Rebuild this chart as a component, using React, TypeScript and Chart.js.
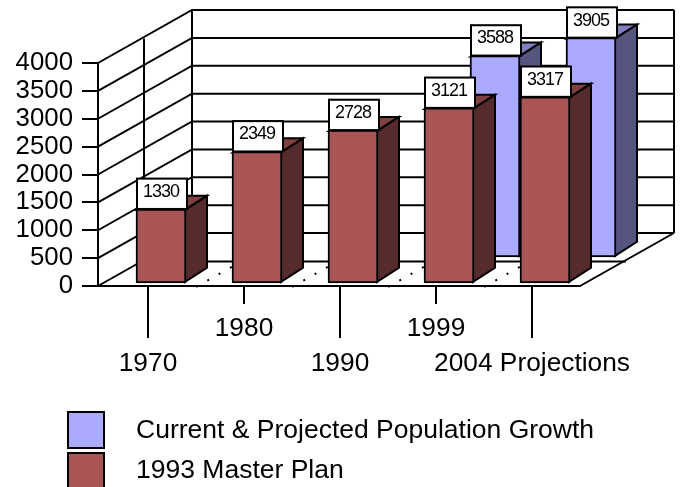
import React, { useEffect, useRef } from "react";
import { Chart, registerables } from "chart.js";

Chart.register(...registerables);

const categories = ["1970", "1980", "1990", "1999", "2004 Projections"];
const masterPlan = [1330, 2349, 2728, 3121, 3317];
const projected = [null, null, null, 3588, 3905];
const seriesNames = ["Current & Projected Population Growth", "1993 Master Plan"];
const yTicks = { min: 0, max: 4000, step: 500 };

const FONT = '"Liberation Sans", Arial, sans-serif';
const INK = "#000000";
const RED = { face: "#AA5555", side: "#552B2B", top: "#804040" };
const BLUE = { face: "#AAAAFF", side: "#555580", top: "#8080C0" };

const shifts = [{ dx: 59, dy: -28 }, { dx: 13, dy: -2 }];
const looks = [BLUE, RED];
const DEPTH = { x: 22, y: -14 };
const WALL = { x: 94, y: -53 };
const BAR_STRETCH = 1.012;

const line = (ctx: CanvasRenderingContext2D, pts: number[][]) => {
  ctx.beginPath();
  pts.forEach(([x, y], i) => (i ? ctx.lineTo(x, y) : ctx.moveTo(x, y)));
  ctx.stroke();
};

const poly = (ctx: CanvasRenderingContext2D, pts: number[][], fill: string) => {
  ctx.beginPath();
  pts.forEach(([x, y], i) => (i ? ctx.lineTo(x, y) : ctx.moveTo(x, y)));
  ctx.closePath();
  ctx.fillStyle = fill;
  ctx.fill();
  ctx.stroke();
};

const scene3d = {
  id: "scene3d",
  afterLayout(chart: any) {
    // the category band starts just right of the value axis
    const x = chart.scales.x;
    x.left = x.left + 2;
    x.configure();
  },
  beforeDatasetsDraw(chart: any) {
    const { ctx, scales } = chart;
    const y = scales.y;
    const left = y.right;
    const right = scales.x.right;
    const y0 = y.getPixelForValue(0);
    const yMax = y.getPixelForValue(yTicks.max);
    ctx.save();
    ctx.strokeStyle = INK;
    ctx.lineWidth = 2;
    for (let v = yTicks.min; v <= yTicks.max; v += yTicks.step) {
      const py = y.getPixelForValue(v);
      line(ctx, [
        [left, py],
        [left + WALL.x, py + WALL.y],
        [right + WALL.x, py + WALL.y],
      ]);
    }
    line(ctx, [[left + WALL.x, yMax + WALL.y], [left + WALL.x, y0 + WALL.y]]);
    line(ctx, [[right + WALL.x, yMax + WALL.y], [right + WALL.x, y0 + WALL.y]]);
    line(ctx, [[right, y0], [right + WALL.x, y0 + WALL.y]]);
    // mid divider of the two rows
    const midX = left + WALL.x / 2 - 1;
    const midY = WALL.y / 2 + 2;
    line(ctx, [[midX, yMax + midY], [midX, y0 + midY]]);
    line(ctx, [[midX, y0 + midY], [right + WALL.x / 2 - 1, y0 + midY]]);
    // dotted floor separators
    ctx.setLineDash([2, 11]);
    const band = (right - scales.x.left) / categories.length;
    for (let i = 1; i < categories.length; i++) {
      const sx = scales.x.left + band * i;
      line(ctx, [[sx, y0 + 1], [sx + WALL.x, y0 + 1 + WALL.y]]);
    }
    ctx.setLineDash([]);
    // long and short category ticks
    categories.forEach((_, i) => {
      const px = scales.x.getPixelForTick(i);
      line(ctx, [[px, y0], [px, y0 + (i % 2 === 0 ? 52 : 18)]]);
    });
    ctx.restore();
  },
  beforeDatasetDraw(chart: any, args: any) {
    const { ctx } = chart;
    const s = shifts[args.index];
    const c = looks[args.index];
    const meta = chart.getDatasetMeta(args.index);
    const values = chart.data.datasets[args.index].data;
    const y0 = chart.scales.y.getPixelForValue(0);
    ctx.save();
    ctx.translate(s.dx, s.dy + y0);
    ctx.scale(1, BAR_STRETCH);
    ctx.translate(0, -y0);
    ctx.strokeStyle = INK;
    ctx.lineWidth = 2;
    ctx.lineJoin = "miter";
    meta.data.forEach((el: any, i: number) => {
      if (values[i] == null) return;
      const L = el.x - el.width / 2 + 1;
      const R = el.x + el.width / 2 - 1;
      const T = el.y + 1;
      const B = el.base - 1;
      poly(ctx, [[L, T], [L + DEPTH.x, T + DEPTH.y], [R + DEPTH.x, T + DEPTH.y], [R, T]], c.top);
      poly(ctx, [[R, T], [R + DEPTH.x, T + DEPTH.y], [R + DEPTH.x, B + DEPTH.y], [R, B]], c.side);
    });
  },
  afterDatasetDraw(chart: any, args: any) {
    const { ctx } = chart;
    const meta = chart.getDatasetMeta(args.index);
    const values = chart.data.datasets[args.index].data;
    ctx.strokeStyle = INK;
    ctx.lineWidth = 2;
    ctx.font = `18px ${FONT}`;
    (ctx as any).letterSpacing = "-1px";
    ctx.textAlign = "center";
    ctx.textBaseline = "middle";
    meta.data.forEach((el: any, i: number) => {
      if (values[i] == null) return;
      const L = el.x - el.width / 2 + 1;
      const w = el.width;
      const h = 30;
      ctx.fillStyle = "#FFFFFF";
      ctx.fillRect(L, el.y - h, w, h);
      ctx.strokeRect(L, el.y - h, w, h);
      ctx.fillStyle = INK;
      ctx.fillText(String(values[i]), el.x, el.y - h / 2 - 2);
    });
    (ctx as any).letterSpacing = "0px";
    ctx.restore();
  },
  afterDraw(chart: any) {
    const { ctx } = chart;
    ctx.save();
    ctx.strokeStyle = INK;
    ctx.lineWidth = 2;
    ctx.font = `26.5px ${FONT}`;
    ctx.textAlign = "left";
    ctx.textBaseline = "alphabetic";
    seriesNames.forEach((name, i) => {
      const top = 412 + i * 41;
      ctx.fillStyle = chart.data.datasets[i].backgroundColor;
      ctx.fillRect(68, top, 36, 36);
      ctx.strokeRect(68, top, 36, 36);
      ctx.fillStyle = INK;
      ctx.fillText(name, 136, 437.5 + i * 40);
    });
    ctx.restore();
  },
};

export default function App() {
  const ref = useRef<HTMLCanvasElement>(null);
  useEffect(() => {
    const chart = new Chart(ref.current!, {
      type: "bar",
      plugins: [scene3d],
      data: {
        labels: categories,
        datasets: [
          {
            label: seriesNames[0],
            data: projected,
            backgroundColor: BLUE.face,
            borderColor: INK,
            borderWidth: 2,
            borderSkipped: false,
            grouped: false,
            barThickness: 50,
            order: 2,
            clip: false,
          },
          {
            label: seriesNames[1],
            data: masterPlan,
            backgroundColor: RED.face,
            borderColor: INK,
            borderWidth: 2,
            borderSkipped: false,
            grouped: false,
            barThickness: 50,
            order: 1,
            clip: false,
          },
        ] as any,
      },
      options: {
        responsive: false,
        animation: false,
        events: [],
        layout: { padding: { left: 0, top: 63, right: 101, bottom: 0 } },
        plugins: { legend: { display: false }, tooltip: { enabled: false } },
        scales: {
          x: {
            grid: { display: false, drawTicks: false },
            border: { display: true, color: INK, width: 2 },
            ticks: {
              autoSkip: false,
              maxRotation: 0,
              color: INK,
              padding: 26,
              font: { family: FONT, size: 26.3, lineHeight: 1.3 },
              callback: (_: any, i: number) => (i % 2 === 0 ? ["", categories[i]] : categories[i]),
            },
            afterFit: (s: any) => {
              s.height = 201;
            },
          },
          y: {
            min: yTicks.min,
            max: yTicks.max,
            grid: { drawOnChartArea: false, drawTicks: true, tickLength: 16, color: INK, lineWidth: 2 },
            border: { display: true, color: INK, width: 2 },
            ticks: {
              autoSkip: false,
              stepSize: yTicks.step,
              color: INK,
              padding: 9,
              font: { family: FONT, size: 25.8 },
              callback: (v: any) => String(v),
            },
            afterFit: (s: any) => {
              s.width = 98;
            },
          },
        },
      } as any,
    });
    return () => chart.destroy();
  }, []);
  return (
    <div style={{ position: "fixed", left: 0, top: 0, width: 681, height: 487, background: "#fff" }}>
      <canvas ref={ref} width={681} height={487} style={{ display: "block" }} />
    </div>
  );
}
